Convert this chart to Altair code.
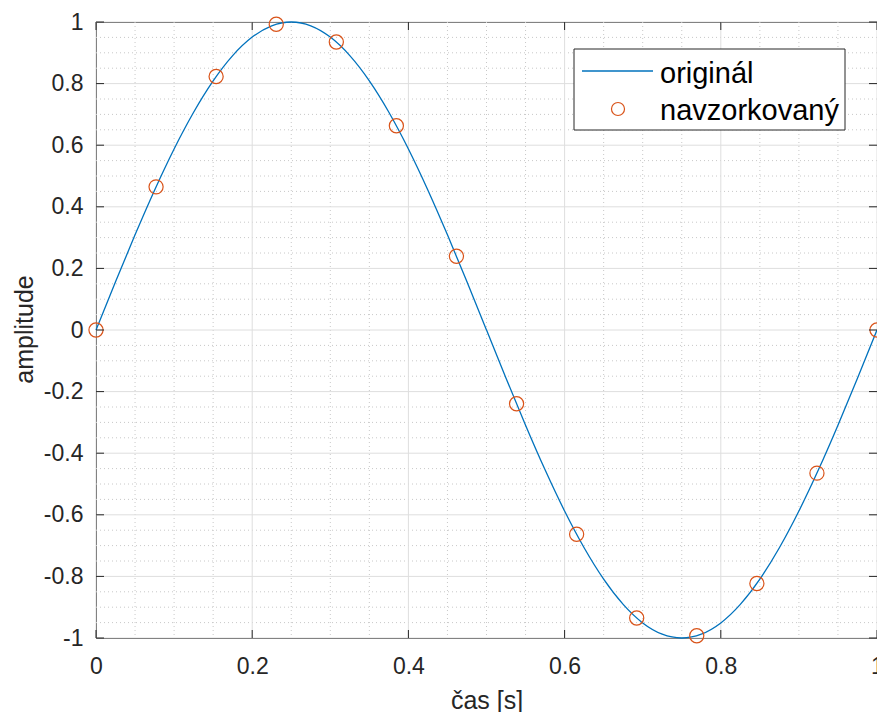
import altair as alt
import pandas as pd

# Continuous signal: time [s] and amplitude
t_orig = [0.0, 0.025, 0.05, 0.075, 0.1, 0.125, 0.15, 0.175, 0.2, 0.225,
          0.25, 0.275, 0.3, 0.325, 0.35, 0.375, 0.4, 0.425, 0.45, 0.475,
          0.5, 0.525, 0.55, 0.575, 0.6, 0.625, 0.65, 0.675, 0.7, 0.725,
          0.75, 0.775, 0.8, 0.825, 0.85, 0.875, 0.9, 0.925, 0.95, 0.975, 1.0]
y_orig = [0.0, 0.1564, 0.3090, 0.4540, 0.5878, 0.7071, 0.8090, 0.8910, 0.9511, 0.9877,
          1.0, 0.9877, 0.9511, 0.8910, 0.8090, 0.7071, 0.5878, 0.4540, 0.3090, 0.1564,
          0.0, -0.1564, -0.3090, -0.4540, -0.5878, -0.7071, -0.8090, -0.8910, -0.9511, -0.9877,
          -1.0, -0.9877, -0.9511, -0.8910, -0.8090, -0.7071, -0.5878, -0.4540, -0.3090, -0.1564, 0.0]

# Sampled signal
t_samp = [0.0, 0.0769, 0.1538, 0.2308, 0.3077, 0.3846, 0.4615,
          0.5385, 0.6154, 0.6923, 0.7692, 0.8462, 0.9231, 1.0]
y_samp = [0.0, 0.4647, 0.8230, 0.9927, 0.9350, 0.6631, 0.2393,
          -0.2393, -0.6631, -0.9350, -0.9927, -0.8230, -0.4647, 0.0]

# Axis ticks and grid
x_major = [0, 0.2, 0.4, 0.6, 0.8, 1]
y_major = [-1, -0.8, -0.6, -0.4, -0.2, 0, 0.2, 0.4, 0.6, 0.8, 1]
x_minor = [0.05, 0.1, 0.15, 0.25, 0.3, 0.35, 0.45, 0.5, 0.55,
           0.65, 0.7, 0.75, 0.85, 0.9, 0.95]
y_minor = [-0.95, -0.9, -0.85, -0.75, -0.7, -0.65, -0.55, -0.5, -0.45,
           -0.35, -0.3, -0.25, -0.15, -0.1, -0.05, 0.05, 0.1, 0.15,
           0.25, 0.3, 0.35, 0.45, 0.5, 0.55, 0.65, 0.7, 0.75, 0.85, 0.9, 0.95]

series_names = ["originál", "navzorkovaný"]

W, H = 781, 616
FONT = "Liberation Sans"
AX = "#262626"
BLUE = "#0072BD"
ORANGE = "#D95319"

xs = alt.Scale(domain=[0, 1], nice=False, zero=False)
ys = alt.Scale(domain=[-1, 1], nice=False, zero=False)

x_axis = alt.Axis(
    values=x_major, labelExpr="'' + datum.value", grid=False, ticks=False, tickSize=0,
    domain=False, labelFlush=False, labelFont=FONT, labelFontSize=23, labelColor=AX,
    labelPadding=17,
    title="čas [s]", titleFont=FONT, titleFontSize=25, titleFontWeight="normal",
    titleColor=AX, titleX=W / 2, titleY=70, titleBaseline="alphabetic", titleAlign="center")
y_axis = alt.Axis(
    values=y_major, labelExpr="'' + datum.value", grid=False, ticks=False, tickSize=0,
    domain=False, labelFlush=False, labelFont=FONT, labelFontSize=23, labelColor=AX,
    labelPadding=13,
    title="amplitude", titleFont=FONT, titleFontSize=25, titleFontWeight="normal",
    titleColor=AX, titleAngle=270, titleX=-64, titleY=307,
    titleBaseline="alphabetic", titleAlign="center")


def X(field):
    return alt.X(field, scale=xs, axis=x_axis, title="čas [s]")


def Y(field):
    return alt.Y(field, scale=ys, axis=y_axis, title="amplitude")


orig_df = pd.DataFrame({"t": t_orig, "y": y_orig})
samp_df = pd.DataFrame({"t": t_samp, "y": y_samp})
xmaj_df = pd.DataFrame({"v": x_major})
ymaj_df = pd.DataFrame({"v": y_major})
xmin_df = pd.DataFrame({"v": x_minor})
ymin_df = pd.DataFrame({"v": y_minor})
one = pd.DataFrame({"k": [0]})

# Grid: dotted minor lines, light solid major lines
minor_x = alt.Chart(xmin_df).mark_rule(color="#c8c8c8", strokeWidth=1, strokeDash=[1, 3]).encode(
    x=X("v:Q"))
minor_y = alt.Chart(ymin_df).mark_rule(color="#c8c8c8", strokeWidth=1, strokeDash=[1, 3]).encode(
    y=Y("v:Q"))
major_x = alt.Chart(xmaj_df).mark_rule(color="#dedede", strokeWidth=1).encode(
    x=X("v:Q"))
major_y = alt.Chart(ymaj_df).mark_rule(color="#dedede", strokeWidth=1).encode(
    y=Y("v:Q"))

# Inward-pointing ticks on all four sides
TL = 8
tick_bottom = alt.Chart(xmaj_df).mark_rule(color=AX).encode(
    x=X("v:Q"), y=alt.value(H), y2=alt.value(H - TL))
tick_top = alt.Chart(xmaj_df).mark_rule(color=AX).encode(
    x=X("v:Q"), y=alt.value(0), y2=alt.value(TL))
tick_left = alt.Chart(ymaj_df).mark_rule(color=AX).encode(
    y=Y("v:Q"), x=alt.value(0), x2=alt.value(TL))
tick_right = alt.Chart(ymaj_df).mark_rule(color=AX).encode(
    y=Y("v:Q"), x=alt.value(W), x2=alt.value(W - TL))

line = alt.Chart(orig_df).mark_line(color=BLUE, strokeWidth=1.3, interpolate="natural").encode(
    x=X("t:Q"), y=Y("y:Q"))

points = alt.Chart(samp_df).mark_point(
    shape="circle", filled=False, color=ORANGE, size=200, strokeWidth=1.2, opacity=1).encode(
    x=X("t:Q"), y=Y("y:Q"))

# Legend box in the upper right corner
LX0, LX1, LY0, LY1 = 478, 749, 27, 108
leg_box = alt.Chart(one).mark_rect(fill="white", stroke=AX, strokeWidth=1).encode(
    x=alt.value(LX0), x2=alt.value(LX1), y=alt.value(LY0), y2=alt.value(LY1))
leg_line = alt.Chart(one).mark_rule(color=BLUE, strokeWidth=1.3).encode(
    x=alt.value(486), x2=alt.value(557), y=alt.value(49))
leg_pt = alt.Chart(one).mark_point(
    shape="circle", filled=False, color=ORANGE, size=170, strokeWidth=1.2, opacity=1).encode(
    x=alt.value(522), y=alt.value(87))
leg_txt1 = alt.Chart(one).mark_text(
    text=series_names[0], font=FONT, fontSize=29, color="black", align="left",
    baseline="alphabetic").encode(x=alt.value(564), y=alt.value(61))
leg_txt2 = alt.Chart(one).mark_text(
    text=series_names[1], font=FONT, fontSize=29, color="black", align="left",
    baseline="alphabetic").encode(x=alt.value(564), y=alt.value(98))

chart = alt.layer(
    minor_x, minor_y, major_x, major_y, line, points,
    tick_bottom, tick_top, tick_left, tick_right,
    leg_box, leg_line, leg_pt, leg_txt1, leg_txt2,
).properties(
    width=W, height=H,
    autosize=alt.AutoSizeParams(type="none"),
    padding={"left": 96, "top": 22, "right": 0, "bottom": 74},
    background="white",
).configure_view(stroke=AX, strokeWidth=1)

chart.save("out.html", embed_options={"renderer": "svg", "actions": False})
